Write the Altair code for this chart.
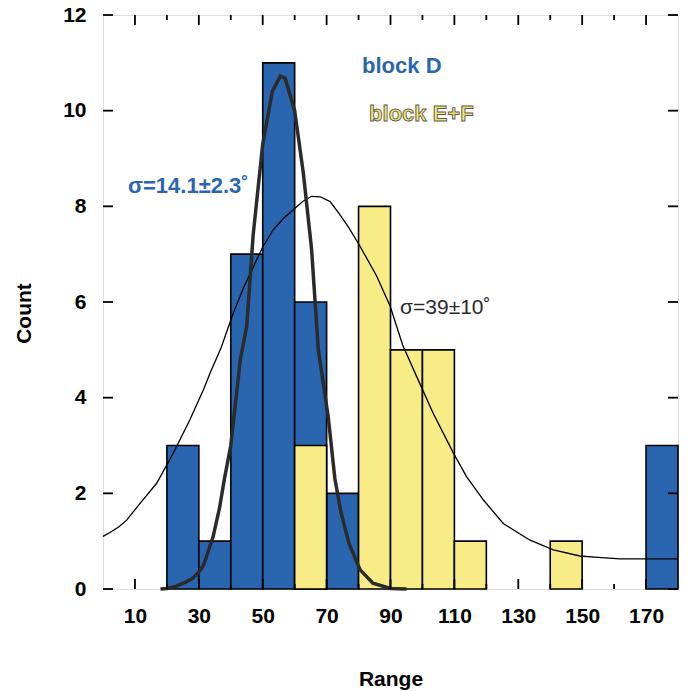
import altair as alt
import pandas as pd

# Histogram bins (left edge of each 10-wide bin) and counts
bin_width = 10
block_d_start = [20, 30, 40, 50, 60, 70, 170]
block_d_count = [3, 1, 7, 11, 6, 2, 3]
block_ef_start = [60, 80, 90, 100, 110, 140]
block_ef_count = [3, 8, 5, 5, 1, 1]

# Narrow fitted curve (block D)
fit_d_x = [18, 20, 23, 26, 28, 30, 31.5, 33, 34.5, 36.5, 38, 40, 43, 45, 47, 50,
           53, 55.5, 57, 60, 62.7, 65.3, 67.4, 70.5, 72.6, 74.5, 77, 80.5, 84.5, 90, 95]
fit_d_y = [0, 0.01, 0.06, 0.15, 0.22, 0.35, 0.5, 0.8, 1.1, 1.7, 2.3, 3.0, 4.8, 5.5, 7.4, 9.3,
           10.4, 10.72, 10.68, 10.0, 8.7, 7.1, 5.0, 3.6, 2.3, 1.6, 0.95, 0.4, 0.12, 0.01, 0]

# Broad fitted curve (block E+F)
fit_ef_x = [0, 2.2, 5, 7.4, 11.6, 16.8, 22, 27.2, 31.4, 33.5, 37, 40.8, 44, 47.1, 50, 53.3,
            56.5, 59.6, 62.5, 65.3, 68, 71.1, 74.2, 77, 80.5, 85.7, 89.9, 93.8, 98.2, 103.4,
            109.7, 113.8, 119.1, 125.3, 133.7, 141, 149.3, 155, 161.9, 170, 180]
fit_ef_y = [1.1, 1.18, 1.3, 1.44, 1.79, 2.21, 2.84, 3.54, 4.16, 4.51, 5.05, 5.77, 6.3, 6.74, 7.15, 7.51,
            7.75, 7.93, 8.1, 8.21, 8.2, 8.1, 7.82, 7.55, 7.16, 6.54, 5.91, 5.1, 4.44, 3.67,
            2.84, 2.35, 1.86, 1.37, 1.02, 0.82, 0.69, 0.66, 0.63, 0.63, 0.63]

# Axis ticks
x_major = [10, 30, 50, 70, 90, 110, 130, 150, 170]
x_minor = [20, 40, 60, 80, 100, 120, 140, 160]
y_ticks = [0, 2, 4, 6, 8, 10, 12]

# Annotations
ann_text = ["block D", "block E+F", "σ=14.1±2.3˚", "σ=39±10˚"]
ann_x = [81.1, 83.3, 7.8, 93.0]
ann_y = [10.79, 9.78, 8.28, 5.75]

BLUE = "#2a66b0"
YELLOW = "#f8ec86"
FONT = "Liberation Sans"
W, H = 575, 574

d_df = pd.DataFrame({"start": block_d_start, "count": block_d_count})
d_df["end"] = d_df["start"] + bin_width
ef_df = pd.DataFrame({"start": block_ef_start, "count": block_ef_count})
ef_df["end"] = ef_df["start"] + bin_width

xscale = alt.Scale(domain=[0, 180], nice=False, zero=False)
yscale = alt.Scale(domain=[0, 12], nice=False)

x_axis = alt.Axis(values=x_major, title="Range", grid=False, ticks=False, tickSize=0,
                  domain=False, labelFont=FONT, labelFontSize=21, labelFontWeight="bold",
                  labelColor="black", labelPadding=16, titleFont=FONT, titleFontSize=21,
                  titleFontWeight="bold", titleColor="black", titleBaseline="alphabetic",
                  titleY=96)
y_axis = alt.Axis(values=y_ticks, title="Count", grid=False, ticks=False, tickSize=0,
                  domain=False, labelFont=FONT, labelFontSize=21, labelFontWeight="bold",
                  labelColor="black", labelPadding=17, titleFont=FONT, titleFontSize=21,
                  titleFontWeight="bold", titleColor="black", titleBaseline="alphabetic",
                  titleX=-73, titleY=298)

bars_d = alt.Chart(d_df).mark_bar(color=BLUE, stroke="black", strokeWidth=1.6).encode(
    x=alt.X("start:Q", scale=xscale, axis=x_axis),
    x2="end:Q",
    y=alt.Y("count:Q", scale=yscale, axis=y_axis),
    y2=alt.datum(0),
)
bars_ef = alt.Chart(ef_df).mark_bar(color=YELLOW, stroke="black", strokeWidth=1.6).encode(
    x=alt.X("start:Q", scale=xscale),
    x2="end:Q",
    y=alt.Y("count:Q", scale=yscale),
    y2=alt.datum(0),
)

curve_ef = alt.Chart(pd.DataFrame({"x": fit_ef_x, "y": fit_ef_y})).mark_line(
    color="black", strokeWidth=1.3).encode(
    x=alt.X("x:Q", scale=xscale), y=alt.Y("y:Q", scale=yscale))
curve_d = alt.Chart(pd.DataFrame({"x": fit_d_x, "y": fit_d_y})).mark_line(
    color="#2b2b2b", strokeWidth=3.5).encode(
    x=alt.X("x:Q", scale=xscale), y=alt.Y("y:Q", scale=yscale))

# Inward ticks on all four sides
xt_major = pd.DataFrame({"x": x_major})
xt_minor = pd.DataFrame({"x": x_minor})
yt = pd.DataFrame({"y": y_ticks})
tick_style = dict(color="black", strokeWidth=1.8)
ticks = [
    alt.Chart(xt_major).mark_rule(**tick_style).encode(
        x=alt.X("x:Q", scale=xscale), y=alt.value(0), y2=alt.value(10)),
    alt.Chart(xt_minor).mark_rule(**tick_style).encode(
        x=alt.X("x:Q", scale=xscale), y=alt.value(0), y2=alt.value(5)),
    alt.Chart(xt_major).mark_rule(**tick_style).encode(
        x=alt.X("x:Q", scale=xscale), y=alt.value(H), y2=alt.value(H - 10)),
    alt.Chart(xt_minor).mark_rule(**tick_style).encode(
        x=alt.X("x:Q", scale=xscale), y=alt.value(H), y2=alt.value(H - 5)),
    alt.Chart(yt).mark_rule(**tick_style).encode(
        y=alt.Y("y:Q", scale=yscale), x=alt.value(0), x2=alt.value(10)),
    alt.Chart(yt).mark_rule(**tick_style).encode(
        y=alt.Y("y:Q", scale=yscale), x=alt.value(W - 10), x2=alt.value(W)),
]

def label(i, **style):
    df = pd.DataFrame({"x": [ann_x[i]], "y": [ann_y[i]], "t": [ann_text[i]]})
    return alt.Chart(df).mark_text(align="left", baseline="alphabetic", font=FONT,
                                   **style).encode(
        x=alt.X("x:Q", scale=xscale), y=alt.Y("y:Q", scale=yscale), text="t:N")

labels = [
    label(0, fontSize=22, fontWeight="bold", color=BLUE),
    label(1, fontSize=22, fontWeight="bold", fill="#f6e567", stroke="#5a5a5a", strokeWidth=0.9),
    label(2, fontSize=22, fontWeight="bold", color=BLUE),
    label(3, fontSize=21, fontWeight="normal", color="#2b2b2b"),
]

chart = alt.layer(bars_d, bars_ef, curve_ef, curve_d, *ticks, *labels).properties(
    width=W, height=H,
    autosize=alt.AutoSizeParams(type="none"),
    padding={"left": 103, "top": 15, "right": 15, "bottom": 102},
).configure_view(stroke="black", strokeWidth=2).configure(background="white")

chart.save("out.html", embed_options={"renderer": "svg", "actions": False})
